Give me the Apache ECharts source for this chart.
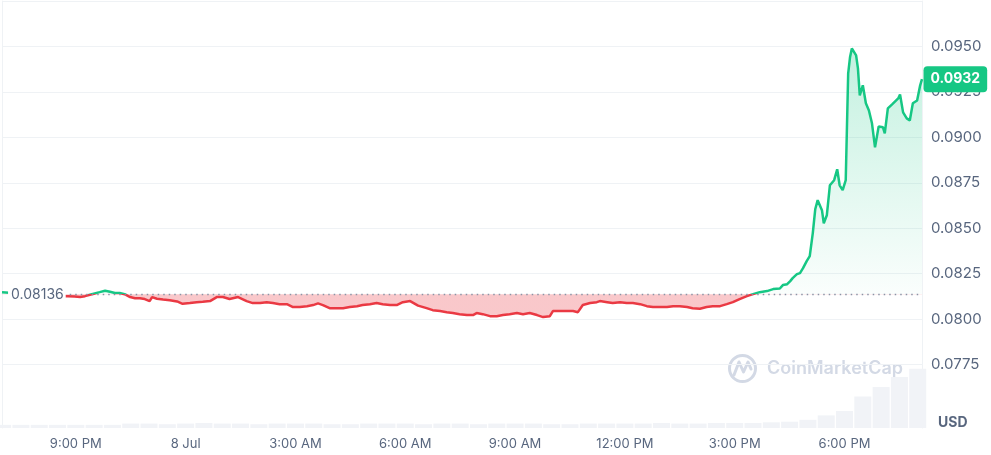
<!DOCTYPE html>
<html>
<head>
<meta charset="utf-8">
<script src="https://cdn.jsdelivr.net/npm/echarts@6/dist/echarts.min.js"></script>
<style>
html,body{margin:0;padding:0;background:#fff;}
#chart{width:991px;height:455px;}
</style>
</head>
<body>
<div id="chart"></div>
<script>
// ---- data ----
const times = [
'2024-07-07 18:59','2024-07-07 19:45','2024-07-07 20:26','2024-07-07 20:47','2024-07-07 20:58','2024-07-07 21:07','2024-07-07 21:15','2024-07-07 21:23','2024-07-07 21:31','2024-07-07 21:39',
'2024-07-07 21:48','2024-07-07 21:56','2024-07-07 22:04','2024-07-07 22:12','2024-07-07 22:20','2024-07-07 22:29','2024-07-07 22:37','2024-07-07 22:45','2024-07-07 22:53','2024-07-07 23:01',
'2024-07-07 23:05','2024-07-07 23:13','2024-07-07 23:23','2024-07-07 23:34','2024-07-07 23:46','2024-07-07 23:55','2024-07-08 00:07','2024-07-08 00:18','2024-07-08 00:28','2024-07-08 00:40',
'2024-07-08 00:51','2024-07-08 01:01','2024-07-08 01:12','2024-07-08 01:26','2024-07-08 01:40','2024-07-08 01:50','2024-07-08 02:02','2024-07-08 02:13','2024-07-08 02:23','2024-07-08 02:34',
'2024-07-08 02:46','2024-07-08 02:56','2024-07-08 03:07','2024-07-08 03:19','2024-07-08 03:29','2024-07-08 03:37','2024-07-08 03:45','2024-07-08 03:56','2024-07-08 04:08','2024-07-08 04:18',
'2024-07-08 04:29','2024-07-08 04:41','2024-07-08 04:50','2024-07-08 05:02','2024-07-08 05:13','2024-07-08 05:23','2024-07-08 05:35','2024-07-08 05:46','2024-07-08 05:56','2024-07-08 06:08',
'2024-07-08 06:21','2024-07-08 06:35','2024-07-08 06:45','2024-07-08 06:57','2024-07-08 07:08','2024-07-08 07:18','2024-07-08 07:29','2024-07-08 07:41','2024-07-08 07:51','2024-07-08 07:57',
'2024-07-08 08:07','2024-07-08 08:19','2024-07-08 08:30','2024-07-08 08:40','2024-07-08 08:51','2024-07-08 09:03','2024-07-08 09:13','2024-07-08 09:24','2024-07-08 09:36','2024-07-08 09:46',
'2024-07-08 09:57','2024-07-08 10:02','2024-07-08 10:13','2024-07-08 10:25','2024-07-08 10:35','2024-07-08 10:43','2024-07-08 10:51','2024-07-08 11:03','2024-07-08 11:14','2024-07-08 11:19',
'2024-07-08 11:31','2024-07-08 11:40','2024-07-08 11:52','2024-07-08 12:03','2024-07-08 12:13','2024-07-08 12:25','2024-07-08 12:36','2024-07-08 12:46','2024-07-08 12:57','2024-07-08 13:09',
'2024-07-08 13:19','2024-07-08 13:30','2024-07-08 13:42','2024-07-08 13:51','2024-07-08 14:03','2024-07-08 14:14','2024-07-08 14:24','2024-07-08 14:36','2024-07-08 14:47','2024-07-08 14:57',
'2024-07-08 15:08','2024-07-08 15:20','2024-07-08 15:30','2024-07-08 15:41','2024-07-08 15:53','2024-07-08 16:03','2024-07-08 16:14','2024-07-08 16:19','2024-07-08 16:26','2024-07-08 16:31',
'2024-07-08 16:35','2024-07-08 16:42','2024-07-08 16:47','2024-07-08 16:52','2024-07-08 16:58','2024-07-08 17:03','2024-07-08 17:08','2024-07-08 17:12','2024-07-08 17:16','2024-07-08 17:23',
'2024-07-08 17:26','2024-07-08 17:31','2024-07-08 17:36','2024-07-08 17:43','2024-07-08 17:48','2024-07-08 17:52','2024-07-08 17:57','2024-07-08 18:02','2024-07-08 18:06','2024-07-08 18:09',
'2024-07-08 18:12','2024-07-08 18:15','2024-07-08 18:19','2024-07-08 18:22','2024-07-08 18:25','2024-07-08 18:30','2024-07-08 18:35','2024-07-08 18:40','2024-07-08 18:45','2024-07-08 18:50',
'2024-07-08 18:56','2024-07-08 19:03','2024-07-08 19:06','2024-07-08 19:11','2024-07-08 19:18','2024-07-08 19:21','2024-07-08 19:28','2024-07-08 19:31','2024-07-08 19:36','2024-07-08 19:42',
'2024-07-08 19:47','2024-07-08 19:52','2024-07-08 19:59','2024-07-08 20:04','2024-07-08 20:07'
];
const prices = [
0.08148,0.08137,0.08126,0.08126,0.08124,0.08121,0.08126,0.08134,0.08141,0.08148,
0.08156,0.08150,0.08143,0.08143,0.08137,0.08121,0.08115,0.08115,0.08110,0.08099,
0.08121,0.08112,0.08108,0.08104,0.08097,0.08084,0.08088,0.08093,0.08095,0.08099,
0.08121,0.08121,0.08110,0.08121,0.08099,0.08088,0.08088,0.08093,0.08088,0.08082,
0.08082,0.08066,0.08066,0.08071,0.08077,0.08086,0.08077,0.08060,0.08060,0.08060,
0.08066,0.08071,0.08077,0.08082,0.08088,0.08082,0.08077,0.08077,0.08093,0.08099,
0.08074,0.08060,0.08049,0.08044,0.08038,0.08033,0.08027,0.08022,0.08022,0.08033,
0.08027,0.08016,0.08016,0.08022,0.08027,0.08033,0.08027,0.08033,0.08022,0.08011,
0.08016,0.08044,0.08044,0.08044,0.08044,0.08038,0.08077,0.08088,0.08093,0.08099,
0.08093,0.08088,0.08093,0.08088,0.08088,0.08082,0.08071,0.08066,0.08066,0.08066,
0.08071,0.08071,0.08066,0.08060,0.08057,0.08066,0.08071,0.08071,0.08082,0.08093,
0.08110,0.08126,0.08137,0.08148,0.08154,0.08165,0.08168,0.08187,0.08192,0.08209,
0.08225,0.08247,0.08253,0.08280,0.08319,0.08346,0.08473,0.08604,0.08654,0.08599,
0.08527,0.08571,0.08736,0.08764,0.08824,0.08736,0.08709,0.08764,0.09352,0.09440,
0.09489,0.09500,0.09451,0.09379,0.09231,0.09286,0.09187,0.09148,0.09077,0.08945,
0.09060,0.09055,0.09022,0.09159,0.09181,0.09170,0.09214,0.09236,0.09137,0.09104,
0.09093,0.09187,0.09203,0.09286,0.09320
];
const volumeStart = '2024-07-07 19:00';   // one bar every 30 minutes
const volumes = [
5,5,5,5,5,5,5,7,7,6,
7,8,7,7,6,7,7,7,6,6,
7,7,7,6,7,7,6,7,7,7,
6,6,7,7,7,7,8,7,7,8,
8,8,9,10,13,20,27,50,65,81,
94
];
const openPrice = 0.08136;
const lastPrice = 0.0932;
const xRange = ['2024-07-07 18:59','2024-07-08 20:07'];
const xTicks = ['2024-07-07 21:00','2024-07-08 00:00','2024-07-08 03:00','2024-07-08 06:00','2024-07-08 09:00','2024-07-08 12:00','2024-07-08 15:00','2024-07-08 18:00'];
const xTickLabels = ['9:00 PM','8 Jul','3:00 AM','6:00 AM','9:00 AM','12:00 PM','3:00 PM','6:00 PM'];
const baselineLabelStart = '2024-07-07 20:50';

// ---- helpers ----
function ts(s){
  const [d,t]=s.split(' ');
  const [Y,M,D]=d.split('-').map(Number);
  const [h,m]=t.split(':').map(Number);
  return Date.UTC(Y,M-1,D,h,m);
}
const GREEN='#16c784', RED='#ea3943', TXT='#58667e', GRIDC='#eff2f5';
const priceData = times.map((t,i)=>[ts(t),prices[i]]);
const v0 = ts(volumeStart);
const volData = volumes.map((v,i)=>[v0 + i*30*60*1000, v]);
const xMin = ts(xRange[0]), xMax = ts(xRange[1]);
const xTickVals = xTicks.map(ts);
const pMax = Math.max(...prices, openPrice), pMin = Math.min(...prices, openPrice);
const split = (pMax-openPrice)/(pMax-pMin);

const el = document.getElementById('chart');
const chart = echarts.init(el, null, {renderer:'canvas'});
const font = 'Inter, "Noto Sans", sans-serif';

function lineGradient(){
  // hard colour change exactly at the opening price, located via the axis scale
  const H = el.clientHeight;
  const yb = chart.convertToPixel({yAxisIndex:0}, openPrice);
  const f = Math.min(1, Math.max(0, yb / H));
  return new echarts.graphic.LinearGradient(0, 0, 0, H, [
    {offset:0, color:GREEN},{offset:f, color:GREEN},
    {offset:f, color:RED},{offset:1, color:RED}], true);
}

const option = {
  animation:false,
  backgroundColor:'#fff',
  textStyle:{fontFamily:font},
  grid:[
    {left:2, right:69, top:1, height:363.5},
    {left:2, right:69, top:365, height:63}
  ],
  xAxis:[
    {type:'value', gridIndex:0, min:xMin, max:xMax, scale:true,
     axisLine:{show:false}, axisTick:{show:false}, axisLabel:{show:false}, splitLine:{show:false}},
    {type:'value', gridIndex:1, min:xMin, max:xMax, scale:true,
     axisLine:{show:false}, axisTick:{show:false}, splitLine:{show:false},
     axisLabel:{customValues:xTickVals, color:TXT, fontSize:13, margin:10, fontFamily:font,
       formatter:function(v){let i=-1; xTickVals.forEach((t,k)=>{if(Math.abs(t-v)<1000) i=k;}); return i>=0?xTickLabels[i]:'';}}}
  ],
  yAxis:[
    {type:'value', gridIndex:0, position:'right', min:0.0775, max:0.0975, interval:0.0025,
     axisLine:{show:true, lineStyle:{color:GRIDC}}, axisTick:{show:false},
     splitLine:{show:true, lineStyle:{color:GRIDC, width:1}},
     axisLabel:{showMinLabel:true, showMaxLabel:false, color:TXT, fontSize:15, margin:9, fontFamily:font,
       formatter:function(v){return v.toFixed(4);}}},
    {type:'value', gridIndex:1, position:'right', min:0, max:100,
     axisLine:{show:true, lineStyle:{color:GRIDC}}, axisTick:{show:false}, axisLabel:{show:false}, splitLine:{show:false}},
    {type:'value', gridIndex:0, position:'left', min:0.0775, max:0.0975,
     axisLine:{show:true, lineStyle:{color:GRIDC}}, axisTick:{show:false}, axisLabel:{show:false}, splitLine:{show:false}},
    {type:'value', gridIndex:1, position:'left', min:0, max:100,
     axisLine:{show:true, lineStyle:{color:GRIDC}}, axisTick:{show:false}, axisLabel:{show:false}, splitLine:{show:false}}
  ],
  series:[
    {type:'bar', xAxisIndex:1, yAxisIndex:1, data:volData, barWidth:17, z:1,
     itemStyle:{color:'#f1f3f7'}},
    {type:'line', xAxisIndex:0, yAxisIndex:0, data:priceData, symbol:'none', z:3,
     lineStyle:{width:2.5, color:RED},
     areaStyle:{origin:openPrice, opacity:1, color:new echarts.graphic.LinearGradient(0,0,0,1,[
        {offset:0, color:'rgba(22,199,132,0.26)'},
        {offset:split, color:'rgba(22,199,132,0.02)'},
        {offset:split, color:'rgba(234,57,67,0.28)'},
        {offset:1, color:'rgba(234,57,67,0.28)'}])},
     markLine:{silent:true, symbol:'none', z:10, animation:false,
       lineStyle:{type:[1.5,4], color:'#8a94a6', width:1.4},
       label:{show:true, position:'start', distance:4, formatter:openPrice.toFixed(5),
         color:TXT, fontSize:14, fontFamily:font, backgroundColor:'#fff', padding:[3,2,3,3]},
       data:[
         [{coord:[ts(baselineLabelStart), openPrice]},{coord:[xMax, openPrice]}]
       ]},
     markPoint:{silent:true, symbol:'rect', symbolSize:[1,1], itemStyle:{color:'rgba(0,0,0,0)'}, z:10,
       data:[{coord:[xMax, lastPrice],
          label:{show:true, position:'right', distance:1, formatter:lastPrice.toFixed(4),
            color:'#fff', fontWeight:'bold', fontSize:14, fontFamily:font,
            backgroundColor:GREEN, borderRadius:4, padding:[5,7,5,7], lineHeight:16}}]}
    }
  ],
  graphic:[
    {type:'text', left:938, top:416, style:{text:'USD', fill:TXT, font:'bold 14px '+font}},
    {type:'circle', shape:{cx:742.5, cy:368.5, r:13}, style:{fill:'none', stroke:'#d3d9e5', lineWidth:3}, z:0},
    {type:'polyline', shape:{points:[[734,375],[739,362],[743.5,372],[748,362],[751,369]]},
     style:{fill:'none', stroke:'#d3d9e5', lineWidth:3, lineJoin:'round', lineCap:'round'}, z:0},
    {type:'text', x:767, y:368.5, style:{text:'CoinMarketCap', fill:'#d3d9e5', font:'600 18px '+font, textVerticalAlign:'middle'}, z:0}
  ]
};
chart.setOption(option);
chart.setOption({series:[{}, {lineStyle:{color:lineGradient()}}]});
</script>
</body>
</html>
